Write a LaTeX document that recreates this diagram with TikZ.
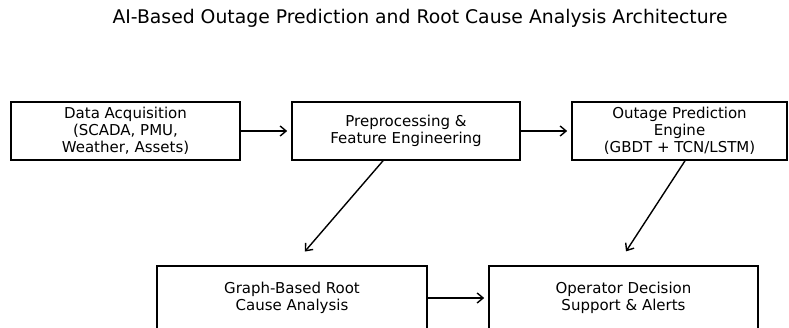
\documentclass[tikz,border=0pt]{standalone}
\usepackage{fontspec}
\setmainfont{DejaVu Sans}
\usetikzlibrary{arrows.meta}
\tikzset{
    x=1pt, y=-1pt, % one unit is one pixel of the layout
    >={Straight Barb[length=6pt,width=10pt]}, % open arrow heads
    block/.style={draw, line width=1.6pt, align=center, inner sep=0pt,
        font=\fontsize{15}{17}\selectfont}, % sets the look of every box
    flow/.style={->, line width=1.4pt}, % the connectors
}
\begin{document}
\begin{tikzpicture}
\useasboundingbox (0,0) rectangle (789,328);
\clip (0,0) rectangle (789,328);
\node[font=\fontsize{18.8}{22}\selectfont] (title) at (420,18)
    {AI-Based Outage Prediction and Root Cause Analysis Architecture};

\node[block, minimum width=229pt, minimum height=58pt] (acq)  at (125.5,131)
    {Data Acquisition\\(SCADA, PMU,\\Weather, Assets)};
\node[block, minimum width=228pt, minimum height=58pt] (prep) at (406,131)
    {Preprocessing \&\\Feature Engineering};
\node[block, minimum width=215pt, minimum height=58pt] (pred) at (679.5,131)
    {Outage Prediction\\Engine\\(GBDT + TCN/LSTM)};
\node[block, minimum width=270pt, minimum height=64pt] (rca)  at (292,298)
    {Graph-Based Root\\Cause Analysis};
\node[block, minimum width=269pt, minimum height=64pt] (ops)  at (623.5,298)
    {Operator Decision\\Support \& Alerts};

\draw[flow, shorten >=4pt] (acq) -- (prep);
\draw[flow, shorten >=4pt] (prep) -- (pred);
\draw[flow, shorten >=4pt] (rca) -- (ops);
\draw[flow, shorten >=18pt] ([xshift=-23pt]prep.south) -- ([xshift=1pt]rca.north);
\draw[flow, shorten >=16.5pt] ([xshift=5.5pt]pred.south) -- ([xshift=-6.5pt]ops.north);
\end{tikzpicture}
\end{document}
